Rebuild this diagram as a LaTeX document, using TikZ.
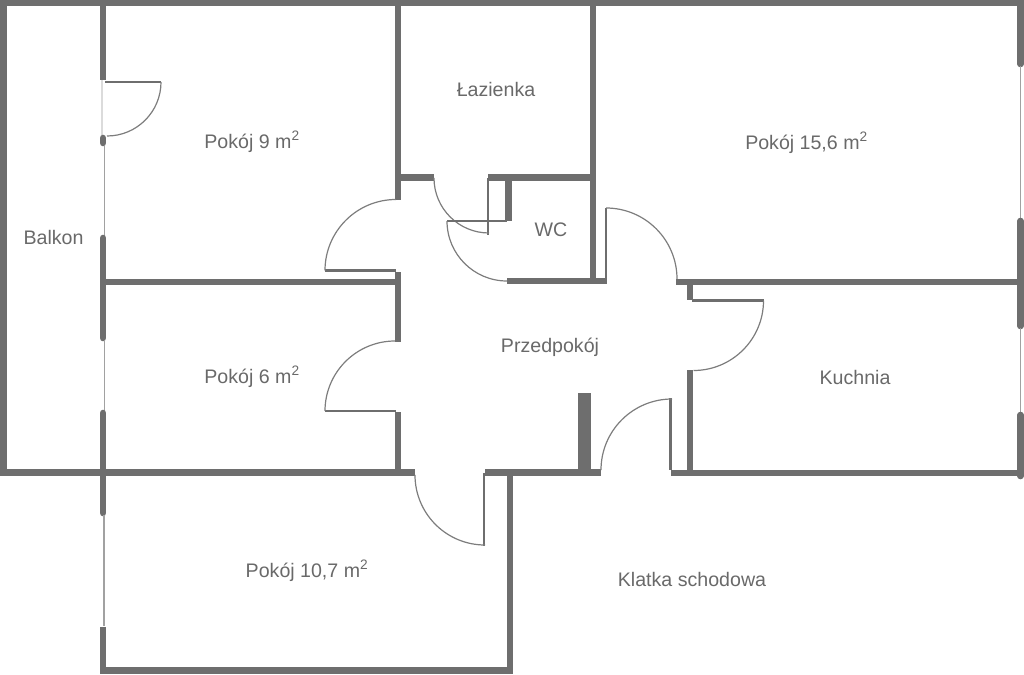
\documentclass[tikz,border=0pt]{standalone}
\usepackage{fontspec}
\setmainfont{Liberation Sans}
\definecolor{Wall}{RGB}{110,110,110}
\definecolor{Label}{RGB}{105,105,105}
\tikzset{
  wall/.style={draw=Wall,line width=6.6pt},
  jamb/.style={draw=Wall,line width=6.6pt,line cap=round},
  leaf/.style={draw=Wall,line width=2.6pt},
  swing/.style={draw=Wall!90,line width=1.2pt},
  pane/.style={draw=Wall!65,line width=1.6pt},
  palepane/.style={draw=Wall!25,line width=1.2pt},
  room/.style={anchor=base,text=Label,inner sep=0pt,font=\fontsize{19.6}{23}\selectfont}
}

\begin{document}
\begin{tikzpicture}[x=1pt,y=-1pt]
        \useasboundingbox (0,0) rectangle (1024,674);
        % outer walls
        \draw[wall](0,3)--(1024,3);
        \draw[wall](3.5,0)--(3.5,476);
        \draw[wall](0,472.5)--(415,472.5);
        \draw[wall](510,473)--(510,673);
        \draw[wall](100,670.5)--(513,670.5);
        \draw[wall](485,472.5)--(601,472.5);
        \draw[wall](671,473)--(1024,473);
        % windows on the balcony side
        \draw[wall](103,0)--(103,80);
        \draw[palepane](102,80)--(102,135);
        \draw[jamb](103,138)--(103,143);
        \draw[pane](104.5,146)--(104.5,237);
        \draw[jamb](103,238)--(103,338);
        \draw[pane](104.5,340)--(104.5,412);
        \draw[jamb](103,413)--(103,513);
        \draw[pane](104,515)--(104,626);
        \draw[wall](103,627)--(103,673);
        % windows on the right
        \draw[jamb](1020.5,3)--(1020.5,64);
        \draw[pane](1020.5,66)--(1020.5,218);
        \draw[jamb](1020.5,221)--(1020.5,326);
        \draw[pane](1020.5,328)--(1020.5,412);
        \draw[jamb](1020.5,415)--(1020.5,476);
        % inner walls
        \draw[wall](103,282)--(401,282);
        \draw[wall](398,0)--(398,200);
        \draw[wall](398,272)--(398,342);
        \draw[wall](398,412)--(398,473);
        \draw[wall](398,177.5)--(434,177.5);
        \draw[wall](488,177.5)--(596,177.5);
        \draw[wall](593,0)--(593,284);
        \draw[wall](507,281)--(606.5,281);
        \draw[wall](508.5,177.5)--(508.5,220.5);
        \draw[wall](676,282)--(1024,282);
        \draw[wall](690,282)--(690,300);
        \draw[wall](690,370)--(690,476);
        \draw[draw=Wall,line width=13pt](584,393)--(584,472);
        % doors
        \draw[leaf](105,82)--(161,82);
        \draw[swing](161,82) arc[start angle=0,end angle=90,radius=54];
        \draw[leaf](325,270.5)--(396,270.5);
        \draw[swing](325,270.5) arc[start angle=180,end angle=270,radius=71];
        \draw[leaf](325,411)--(396,411);
        \draw[swing](325,411) arc[start angle=180,end angle=270,radius=70];
        \draw[leaf](484,473)--(484,546);
        \draw[swing](415,475) arc[start angle=180,end angle=90,radius=70];
        \draw[leaf](488,178)--(488,235);
        \draw[swing](434,178) arc[start angle=180,end angle=90,radius=55];
        \draw[leaf](447,221)--(507,221);
        \draw[swing](447,221) arc[start angle=180,end angle=90,radius=60];
        \draw[leaf](606,208)--(606,280);
        \draw[swing](606,208) arc[start angle=270,end angle=360,radius=71];
        \draw[leaf](692,300.5)--(763.5,300.5);
        \draw[swing](763.5,300.5) arc[start angle=0,end angle=90,radius=70];
        \draw[leaf](670.5,398)--(670.5,470);
        \draw[swing](601,470) arc[start angle=180,end angle=270,radius=71];
        % rooms
        \node[room] (balkon) at (53.5,244) {Balkon};
        \node[room] (pokoj9) at (252,148) {Pokój 9 m\textsuperscript{2}};
        \node[room] (lazienka) at (496,96) {Łazienka};
        \node[room] (wc) at (551,236) {WC};
        \node[room] (pokoj15) at (806.5,149) {Pokój 15,6 m\textsuperscript{2}};
        \node[room] (przedpokoj) at (550,352) {Przedpokój};
        \node[room] (pokoj6) at (252,383) {Pokój 6 m\textsuperscript{2}};
        \node[room] (kuchnia) at (855,384) {Kuchnia};
        \node[room] (pokoj10) at (307,577) {Pokój 10,7 m\textsuperscript{2}};
        \node[room] (klatka) at (692,586) {Klatka schodowa};
        \end{tikzpicture}
\end{document}
